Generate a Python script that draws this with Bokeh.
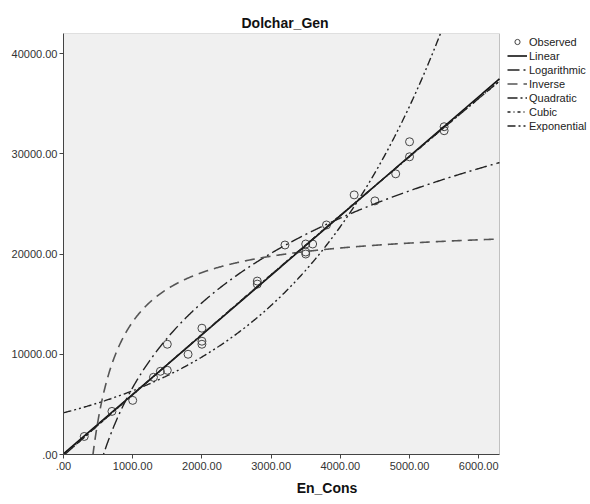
import numpy as np
from bokeh.plotting import figure
from bokeh.models import Legend, LegendItem, FixedTicker, Range1d, BoxAnnotation
from bokeh.embed import file_html
from bokeh.resources import INLINE

en_cons = [300, 700, 1000, 1300, 1400, 1500, 1500, 1800, 2000, 2000, 2000,
           2800, 2800, 3200, 3500, 3500, 3500, 3600, 3800, 4200, 4500, 4800,
           5000, 5000, 5500, 5500]
dolchar_gen = [1800, 4300, 5400, 7700, 8300, 8400, 11000, 10000, 12600, 11300, 11000,
               17300, 17000, 20900, 21000, 20200, 20000, 21000, 22900, 25900, 25300, 28000,
               29700, 31200, 32700, 32300]

x_ticks = [0, 1000, 2000, 3000, 4000, 5000, 6000]
x_tick_labels = [".00", "1000.00", "2000.00", "3000.00", "4000.00", "5000.00", "6000.00"]
y_ticks = [0, 10000, 20000, 30000, 40000]
y_tick_labels = [".00", "10000.00", "20000.00", "30000.00", "40000.00"]

X_MAX = 6300
Y_MAX = 42000

x = np.array(en_cons, dtype=float)
y = np.array(dolchar_gen, dtype=float)

# Curve-estimation fits computed from the observed data
lin_c = np.polyfit(x, y, 1)
log_c = np.polyfit(np.log(x), y, 1)
inv_c = np.polyfit(1.0 / x, y, 1)
quad_c = np.polyfit(x, y, 2)
cub_c = np.polyfit(x, y, 3)
exp_c = np.polyfit(x, np.log(y), 1)

xg = np.linspace(0, X_MAX, 600)
xg_pos = np.linspace(300, X_MAX, 600)

fits = {
    "Linear": (xg, np.polyval(lin_c, xg)),
    "Logarithmic": (xg_pos, log_c[0] * np.log(xg_pos) + log_c[1]),
    "Inverse": (xg_pos, inv_c[0] / xg_pos + inv_c[1]),
    "Quadratic": (xg, np.polyval(quad_c, xg)),
    "Cubic": (xg, np.polyval(cub_c, xg)),
    "Exponential": (xg, np.exp(exp_c[1]) * np.exp(exp_c[0] * xg)),
}

FONT = "Liberation Sans"

# layout: plot box 436 px wide for 0..6300, the canvas extends to the right for the legend
W, H = 590, 498
LEFT, TOP, BOTTOM = 63, 33, 44
BOX_W = 436
x_end = X_MAX * (W - LEFT) / BOX_W

p = figure(width=W, height=H, x_range=Range1d(0, x_end), y_range=Range1d(0, Y_MAX),
           output_backend="svg", toolbar_location=None,
           min_border_left=LEFT, min_border_right=0, min_border_top=TOP, min_border_bottom=BOTTOM,
           title="Dolchar_Gen")

p.background_fill_color = "white"
p.border_fill_color = "white"
p.outline_line_color = None
p.grid.visible = False

box = BoxAnnotation(left=0, right=X_MAX, bottom=0, top=Y_MAX, fill_color="#F0F0F0",
                    fill_alpha=1, line_color="#444444", line_width=1, level="underlay")
p.add_layout(box)

p.title.align = "left"
p.title.text_font = FONT
p.title.text_font_size = "14px"
p.title.text_font_style = "bold"
p.title.text_color = "#111111"
p.title.standoff = 6
p.title.offset = BOX_W / 2 - 40

for ax in (p.xaxis[0], p.yaxis[0]):
    ax.axis_line_color = "#444444"
    ax.major_tick_line_color = "#444444"
    ax.major_tick_out = 4
    ax.major_tick_in = 0
    ax.minor_tick_line_color = None
    ax.major_label_text_font = FONT
    ax.major_label_text_font_size = "11px"
    ax.major_label_text_color = "#333333"
    ax.major_label_standoff = 3

p.xaxis[0].bounds = (0, X_MAX)
p.xaxis[0].ticker = FixedTicker(ticks=x_ticks)
p.xaxis[0].major_label_overrides = {t: l for t, l in zip(x_ticks, x_tick_labels)}
p.yaxis[0].ticker = FixedTicker(ticks=y_ticks)
p.yaxis[0].major_label_overrides = {t: l for t, l in zip(y_ticks, y_tick_labels)}
p.yaxis[0].major_label_standoff = 2

p.xaxis[0].axis_label = "En_Cons"
p.xaxis[0].axis_label_text_font = FONT
p.xaxis[0].axis_label_text_font_size = "14px"
p.xaxis[0].axis_label_text_font_style = "bold"
p.xaxis[0].axis_label_text_color = "#111111"
p.xaxis[0].axis_label_standoff = 7

styles = {
    "Linear": dict(line_color="#111111", line_width=1.6, line_dash="solid"),
    "Logarithmic": dict(line_color="#222222", line_width=1.4, line_dash="12 4 2 4"),
    "Inverse": dict(line_color="#555555", line_width=1.6, line_dash="10 6"),
    "Quadratic": dict(line_color="#222222", line_width=1.4, line_dash="10 3 2 3"),
    "Cubic": dict(line_color="#222222", line_width=1.4, line_dash="3 3 1 3"),
    "Exponential": dict(line_color="#222222", line_width=1.4, line_dash="8 3 2 3 2 3"),
}

items = []
obs = p.scatter(en_cons, dolchar_gen, marker="circle", size=8, fill_color=None,
                line_color="#444444", line_width=1)
items.append(LegendItem(label="Observed", renderers=[obs]))
for name in ["Linear", "Logarithmic", "Inverse", "Quadratic", "Cubic", "Exponential"]:
    xs, ys = fits[name]
    r = p.line(xs, ys, **styles[name])
    items.append(LegendItem(label=name, renderers=[r]))

legend = Legend(items=items, location=(BOX_W + 8, 322))
legend.border_line_color = None
legend.background_fill_alpha = 0
legend.label_text_font = FONT
legend.label_text_font_size = "11px"
legend.label_text_color = "#222222"
legend.glyph_width = 20
legend.glyph_height = 13
legend.label_height = 13
legend.label_standoff = 2
legend.spacing = 1
legend.padding = 0
legend.margin = 0
p.add_layout(legend)

open("out.html", "w").write(file_html(p, INLINE))
